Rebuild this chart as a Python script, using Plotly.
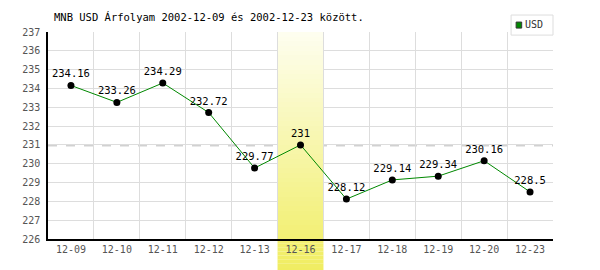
import plotly.graph_objects as go

# ---- data ----
dates = ["12-09", "12-10", "12-11", "12-12", "12-13", "12-16",
         "12-17", "12-18", "12-19", "12-20", "12-23"]
usd = [234.16, 233.26, 234.29, 232.72, 229.77, 231.0,
       228.12, 229.14, 229.34, 230.16, 228.5]
highlight_date = "12-16"
y_ticks = list(range(226, 238))
title_text = "MNB USD Árfolyam 2002-12-09 és 2002-12-23 között."
series_name = "USD"

MONO = "DejaVu Sans Mono"
GREEN = "#008800"
Y_MIN, Y_MAX = y_ticks[0], y_ticks[-1]

top_c = (254, 254, 240)
bot_c = (240, 237, 96)
ext = 0.16  # fraction of plot height the band extends below the axis
total = 1.0 + ext


def col(t):
    return "rgb(%d,%d,%d)" % tuple(round(top_c[k] + (bot_c[k] - top_c[k]) * t) for k in range(3))


fig = go.Figure()

# highlight band inside plot area (bars are drawn above gridlines)
N_IN = 44
span = Y_MAX - Y_MIN
bases = [Y_MAX - span * (i + 1) / N_IN for i in range(N_IN)]
cols = [col(((i + 0.5) / N_IN) / total) for i in range(N_IN)]
fig.add_trace(go.Bar(
    x=[highlight_date] * N_IN, y=[span / N_IN * 1.02] * N_IN, base=bases,
    marker=dict(color=cols, line=dict(width=0)), width=1.0,
    showlegend=False, hoverinfo="skip",
))

fig.add_trace(go.Scatter(
    x=dates, y=usd, mode="lines+markers+text",
    text=[f"{v:g}" for v in usd], textposition="top center",
    textfont=dict(family=MONO, size=10.5, color="#000000"),
    line=dict(color=GREEN, width=1),
    marker=dict(color="#000000", size=7),
    showlegend=False, cliponaxis=False,
))

shapes = []
# average dashed line (below the band)
avg = sum(usd) / len(usd)
shapes.append(dict(type="line", xref="paper", yref="y", x0=0, x1=1, y0=avg, y1=avg,
                   line=dict(color="#bbbbbb", width=1, dash="dash"), layer="between"))

# band continuation below the axis
hi = dates.index(highlight_date)
N_OUT = 8
for i in range(N_OUT):
    ya = -ext * i / N_OUT
    yb = -ext * (i + 1) / N_OUT
    t = (1.0 + ext * (i + 0.5) / N_OUT) / total
    shapes.append(dict(type="rect", xref="x", yref="paper",
                       x0=hi - 0.5, x1=hi + 0.5, y0=yb, y1=ya,
                       fillcolor=col(t), line=dict(width=0), layer="below"))

# legend box (drawn manually)
shapes.append(dict(type="rect", xref="paper", yref="paper", x0=0.917, x1=1.0,
                   y0=0.985, y1=1.082, fillcolor="white",
                   line=dict(color="#dddddd", width=1), layer="above"))
shapes.append(dict(type="rect", xref="paper", yref="paper", x0=0.927, x1=0.938,
                   y0=1.019, y1=1.048, fillcolor=GREEN,
                   line=dict(color="#333333", width=1), layer="above"))

annotations = [
    dict(text=title_text, xref="paper", yref="paper", x=0, y=1, xanchor="left",
         yanchor="bottom", xshift=4, yshift=7, showarrow=False,
         font=dict(family=MONO, size=10.5, color="#000000")),
    dict(text=series_name, xref="paper", yref="paper", x=0.941, y=1.034,
         xanchor="left", yanchor="middle", showarrow=False,
         font=dict(family=MONO, size=10, color="#333333")),
]

fig.update_layout(
    width=600, height=270,
    margin=dict(l=48, r=47, t=32, b=31),
    paper_bgcolor="white", plot_bgcolor="white",
    barmode="overlay", bargap=0,
    shapes=shapes, annotations=annotations,
    xaxis=dict(type="category", categoryorder="array", categoryarray=dates,
               tickson="boundaries", showgrid=True,
               gridcolor="#dddddd", gridwidth=1, showline=True,
               linecolor="#000000", linewidth=1.5, ticks="", range=[-0.5, len(dates) - 0.5],
               tickfont=dict(family=MONO, size=10, color="#555555")),
    yaxis=dict(range=[Y_MIN, Y_MAX], tickvals=y_ticks, showgrid=True,
               gridcolor="#dddddd", gridwidth=1, showline=True,
               linecolor="#000000", linewidth=1.5, ticks="", zeroline=False,
               ticklabelstandoff=4,
               tickfont=dict(family=MONO, size=10, color="#555555")),
)

fig.write_html("out.html")
